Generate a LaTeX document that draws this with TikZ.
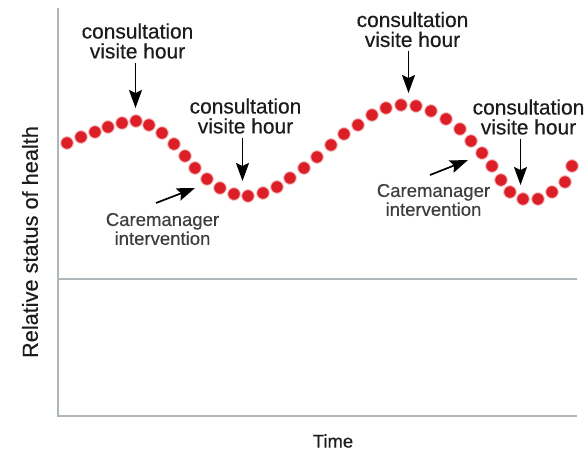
\documentclass[tikz,border=0pt]{standalone}
\usepackage{fontspec}
\setmainfont{Liberation Sans}
\newfontfamily\labfont[FakeBold=0.4]{Liberation Sans}
\usetikzlibrary{arrows.meta}
\definecolor{dotred}{HTML}{DC1F26}
\definecolor{axisgray}{HTML}{AEB8BA}
\definecolor{txt}{HTML}{1C1C1C}
\tikzset{
  axisline/.style={draw=axisgray, line width=1.4bp},
  dotnode/.style={circle, fill=dotred, minimum size=12.8bp, inner sep=0pt, draw=dotred!25, line width=1bp},
  consult/.style={align=center, inner sep=0pt, text=txt, font=\labfont\fontsize{21}{20}\selectfont},
  care/.style={align=center, inner sep=0pt, text=txt!85, font=\labfont\fontsize{18.6}{19}\selectfont},
  pointer/.style={draw=black, line width=1.7bp, -{Stealth[length=18bp,width=13bp,inset=3bp]}},
  axislabel/.style={inner sep=0pt, text=txt, font=\labfont\fontsize{18.5}{20}\selectfont}
}
\begin{document}
\begin{tikzpicture}[x=1bp,y=-1bp]
\useasboundingbox (0,0) rectangle (585,454);
% axes
\coordinate (o) at (58,416);
\coordinate (ytop) at (58,8);
\coordinate (xend) at (577,416);
\coordinate (ml) at (58,279);
\coordinate (mr) at (577,279);
\path[axisline] (ytop) -- (o) -- (xend);
\path[axisline] (ml) -- (mr);
% axis labels
\node[axislabel, rotate=90, font=\labfont\fontsize{21.8}{22}\selectfont] (ylab) at (30,242) {Relative status of health};
\node[axislabel] (xlab) at (333,441) {Time};
% dots
\foreach \px/\py [count=\i] in {
  67/143, 81/137, 95/132, 108/127, 122/123, 136/121, 149/125, 162/133,
  174/144, 185/156, 195/168, 207/179, 220/188, 234/194, 248/196, 263/193,
  277/187, 290/178, 304/168, 317/157, 331/145, 344/134, 358/125, 372/115,
  386/108, 401/105, 416/106, 431/111, 446/119, 460/129, 471/141, 482/153,
  492/166, 501/180, 510/192, 523/199, 538/199, 552/192, 565/182, 572/166}
  \node[dotnode] (d\i) at (\px,\py) {};
% consultation labels
\node[consult] (c1) at (137.5,41) {consultation\\visite hour};
\node[consult] (c2) at (245.5,116) {consultation\\visite hour};
\node[consult] (c3) at (412.5,29.5) {consultation\\visite hour};
\node[consult] (c4) at (528.5,117) {consultation\\visite hour};
\coordinate (t1) at (135.5,108);
\coordinate (t2) at (242.5,181);
\coordinate (t3) at (408.5,93);
\coordinate (t4) at (520.5,185);
\draw[pointer] (t1 |- c1.south) ++(0,4) -- (t1);
\draw[pointer] (t2 |- c2.south) ++(0,4) -- (t2);
\draw[pointer] (t3 |- c3.south) ++(0,4) -- (t3);
\draw[pointer] (t4 |- c4.south) ++(0,4) -- (t4);
% caremanager labels
\node[care] (k1) at (162.5,229) {Caremanager\\intervention};
\node[care] (k2) at (433.5,200) {Caremanager\\intervention};
\coordinate (s1) at (156,203);
\coordinate (u1) at (195,188);
\coordinate (s2) at (430,175);
\coordinate (u2) at (468,160);
\draw[pointer] (s1) -- (u1);
\draw[pointer] (s2) -- (u2);
\end{tikzpicture}
\end{document}
